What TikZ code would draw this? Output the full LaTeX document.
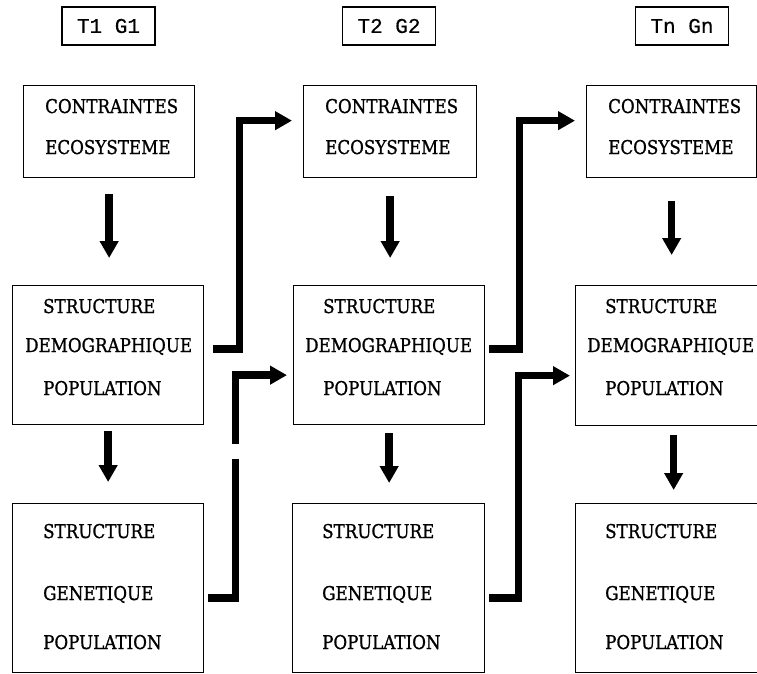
\documentclass[tikz,border=0pt]{standalone}
\usepackage{fontspec}
\setmainfont{DejaVu Serif}[FakeStretch=0.88,FakeBold=1]
\newfontfamily\labfont{Liberation Mono}[FakeBold=0.4]
\usetikzlibrary{arrows.meta}
\begin{document}
\begin{tikzpicture}[x=1pt,y=-1pt,
  box/.style={draw, line width=1.3pt, inner sep=0pt, anchor=north west},
  txt/.style={anchor=base west, inner sep=0pt, font=\fontsize{19}{19}\selectfont},
  lab/.style={draw, line width=1.3pt, minimum width=93pt, minimum height=38pt, inner sep=0pt, font=\labfont\fontsize{21}{21}\selectfont},
  thick arrow/.style={line width=7.5pt, line join=miter, -{Triangle[length=17pt,width=18pt]}}]
\useasboundingbox (0,0) rectangle (757,673);
\clip (0,0) rectangle (757,673);
% time labels
\node[lab] (l1) at (108.5,26) {T1 G1};
\node[lab] (l2) at (389,26) {T2 G2};
\node[lab] (l3) at (682,26) {Tn Gn};
% boxes
\node[box, minimum width=171pt, minimum height=92pt] (c1) at (23,85) {};
\node[box, minimum width=173pt, minimum height=92pt] (c2) at (303,85) {};
\node[box, minimum width=170pt, minimum height=92pt] (c3) at (586,85) {};
\node[box, minimum width=191pt, minimum height=139pt] (d1) at (12,285) {};
\node[box, minimum width=191pt, minimum height=139pt] (d2) at (293,285) {};
\node[box, minimum width=200pt, minimum height=140pt] (d3) at (575,285) {};
\node[box, minimum width=191pt, minimum height=169pt] (g1) at (12,503) {};
\node[box, minimum width=192pt, minimum height=169pt] (g2) at (292,503) {};
\node[box, minimum width=200pt, minimum height=169pt] (g3) at (575,503) {};
% texts row 1
\foreach \n/\x in {1/45,2/325,3/608}{
  \node[txt] (ca\n) at (\x,113) {CONTRAINTES};
  \node[txt] (cb\n) at (\x,154) {ECOSYSTEME};
}
% texts row 2
\foreach \n/\x/\y in {1/43/25,2/323/305,3/605/587}{
  \node[txt] (da\n) at (\x,313) {STRUCTURE};
  \node[txt] (db\n) at (\y,352) {DEMOGRAPHIQUE};
  \node[txt] (dc\n) at (\x,395) {POPULATION};
}
% texts row 3
\foreach \n/\x in {1/43,2/322,3/605}{
  \node[txt] (ga\n) at (\x,538) {STRUCTURE};
  \node[txt] (gb\n) at (\x,600) {GENETIQUE};
  \node[txt] (gc\n) at (\x,649) {POPULATION};
}
% vertical arrows
\draw[thick arrow, shorten <=16pt, shorten >=27pt] (c1.south) -- (c1.south |- d1.north);
\draw[thick arrow, shorten <=18pt, shorten >=27pt] (c2.south) -- (c2.south |- d2.north);
\draw[thick arrow, shorten <=23pt, shorten >=30pt] (c3.south) -- (c3.south |- d3.north);
\draw[thick arrow, shorten <=6pt, shorten >=21pt] (d1.south) -- (d1.south |- g1.north);
\draw[thick arrow, shorten <=8pt, shorten >=20pt] (d2.south) -- (d2.south |- g2.north);
\draw[thick arrow, shorten <=9pt, shorten >=13pt] ([xshift=-2pt]d3.south) -- ([xshift=-2pt]d3.south |- g3.north);
% elbow arrows upward to next generation
\draw[thick arrow, shorten <=9pt, shorten >=11pt] ([yshift=6pt]d1.east) -- ++(35,0) |- ([yshift=11pt]c2.west);
\draw[thick arrow, shorten <=4pt, shorten >=11pt] ([yshift=6pt]d2.east) -- ++(34,0) |- ([yshift=11pt]c3.west);
\draw[thick arrow, shorten <=4pt, shorten >=6pt] ([yshift=-10pt]g1.east) -- ++(31,0) |- ([yshift=-20pt]d2.west);
\draw[thick arrow, shorten <=4pt, shorten >=5pt] ([yshift=-10pt]g2.east) -- ++(33,0) |- ([yshift=-20pt]d3.west);
% break in the scanned line
\fill[white] (226,444) rectangle (244,459);
\end{tikzpicture}
\end{document}
